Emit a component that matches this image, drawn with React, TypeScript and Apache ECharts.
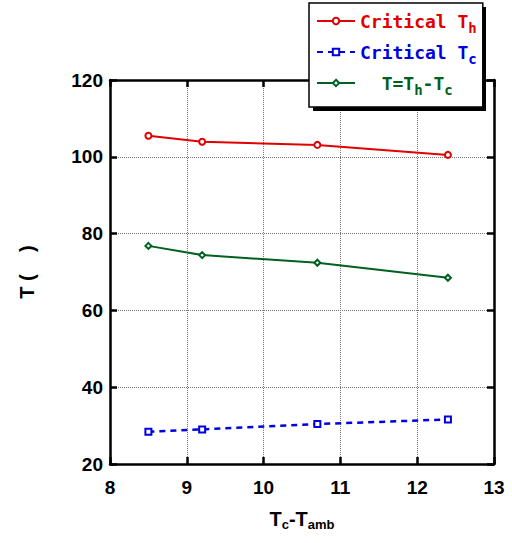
import React, { useEffect, useRef } from "react";
import * as echarts from "echarts";

const xValues = [8.5, 9.2, 10.7, 12.4];
const criticalTh = [105.5, 103.9, 103.1, 100.5];
const criticalTc = [28.4, 29.0, 30.4, 31.6];
const deltaT = [76.8, 74.4, 72.4, 68.5];
const seriesNames = ["Critical Th", "Critical Tc", "T=Th-Tc"];

const pairs = (ys: number[]) => xValues.map((x, i) => [x, ys[i]]);

const tickFont = {
  fontFamily: "Liberation Sans, Arial, sans-serif",
  fontWeight: "bold" as const,
  fontSize: 19,
  color: "#000",
};

const legendFont = "'DejaVu Sans Mono', 'Liberation Mono', monospace";

const richFor = (color: string) => ({
  main: { color, fontFamily: legendFont, fontWeight: "bold", fontSize: 18, lineHeight: 24 },
  sub: { color, fontFamily: legendFont, fontWeight: "bold", fontSize: 14, lineHeight: 14, padding: [14, 0, 0, 0] },
});

export default function App() {
  const ref = useRef<HTMLDivElement>(null);
  useEffect(() => {
    if (!ref.current) return;
    const chart = echarts.init(ref.current, undefined, { renderer: "svg" });
    const axisCommon = {
      type: "value" as const,
      axisLine: { show: true, lineStyle: { color: "#000", width: 2.5 } },
      axisTick: { show: true, inside: true, length: 7, lineStyle: { color: "#000", width: 2.5 } },
    };
    const r = richFor("#e00000");
    const b = richFor("#0000e0");
    const g = richFor("#006020");
    chart.setOption({
      animation: false,
      backgroundColor: "#fff",
      grid: { left: 110, right: 18, top: 80, bottom: 79, containLabel: false },
      graphic: [
        {
          type: "rect",
          z: 3,
          shape: { x: 313, y: 7, width: 173, height: 104 },
          style: { fill: "#000" },
        },
      ],
      legend: {
        orient: "vertical",
        left: 309,
        top: 3,
        z: 5,
        backgroundColor: "#fff",
        borderColor: "#000",
        borderWidth: 1.5,
        padding: [4, 6, 10, 7],
        itemWidth: 38,
        itemHeight: 8,
        itemGap: 3,
        borderRadius: 0,
        data: seriesNames,
        formatter: (name: string) => {
          if (name === seriesNames[0]) return "{r|Critical T}{rs|h}";
          if (name === seriesNames[1]) return "{b|Critical T}{bs|c}";
          return "{g|  T=T}{gs|h}{g|-T}{gs|c}";
        },
        textStyle: {
          rich: {
            r: r.main, rs: r.sub,
            b: b.main, bs: b.sub,
            g: g.main, gs: g.sub,
          },
        },
      },
      xAxis: [
        {
          ...axisCommon,
          min: 8,
          max: 13,
          interval: 1,
          name: "T{s|c}-T{s|amb}",
          nameLocation: "middle",
          nameGap: 42,
          nameTextStyle: {
            fontFamily: "Liberation Sans, Arial, sans-serif",
            fontWeight: "bold",
            fontSize: 20,
            color: "#000",
            rich: {
              s: { fontFamily: "Liberation Sans, Arial, sans-serif", fontWeight: "bold", fontSize: 13, color: "#000", padding: [12, 0, 0, 0] },
            },
          },
          axisLabel: { ...tickFont, margin: 14 },
          splitLine: { show: true, lineStyle: { color: "#777", type: "dotted", width: 1 } },
        },
        {
          ...axisCommon,
          position: "top",
          min: 8,
          max: 13,
          interval: 1,
          axisLabel: { show: false },
          splitLine: { show: false },
        },
      ],
      yAxis: [
        {
          ...axisCommon,
          min: 20,
          max: 120,
          interval: 20,
          name: "T (    )",
          nameLocation: "middle",
          nameGap: 73,
          nameRotate: 90,
          nameTextStyle: {
            fontFamily: "Liberation Sans, Arial, sans-serif",
            fontWeight: "bold",
            fontSize: 20,
            color: "#000",
          },
          axisLabel: { ...tickFont, margin: 7 },
          splitLine: { show: true, lineStyle: { color: "#777", type: "dotted", width: 1 } },
        },
        {
          ...axisCommon,
          position: "right",
          min: 20,
          max: 120,
          interval: 20,
          axisLabel: { show: false },
          splitLine: { show: false },
        },
      ],
      series: [
        {
          name: seriesNames[0],
          type: "line",
          data: pairs(criticalTh),
          symbol: "emptyCircle",
          symbolSize: 6,
          color: "#e00000",
          lineStyle: { color: "#e00000", width: 2 },
          itemStyle: { color: "#e00000", borderWidth: 1 },
        },
        {
          name: seriesNames[1],
          type: "line",
          data: pairs(criticalTc),
          symbol: "emptyRect",
          symbolSize: 6,
          color: "#0000e0",
          lineStyle: { color: "#0000e0", width: 2.5, type: [6, 5] },
          itemStyle: { color: "#0000e0", borderWidth: 1 },
        },
        {
          name: seriesNames[2],
          type: "line",
          data: pairs(deltaT),
          symbol: "emptyDiamond",
          symbolSize: 6,
          color: "#006020",
          lineStyle: { color: "#006020", width: 2 },
          itemStyle: { color: "#006020", borderWidth: 1 },
        },
      ],
    });
    return () => chart.dispose();
  }, []);
  return <div ref={ref} style={{ width: 512, height: 543, position: "absolute", left: 0, top: 0 }} />;
}
